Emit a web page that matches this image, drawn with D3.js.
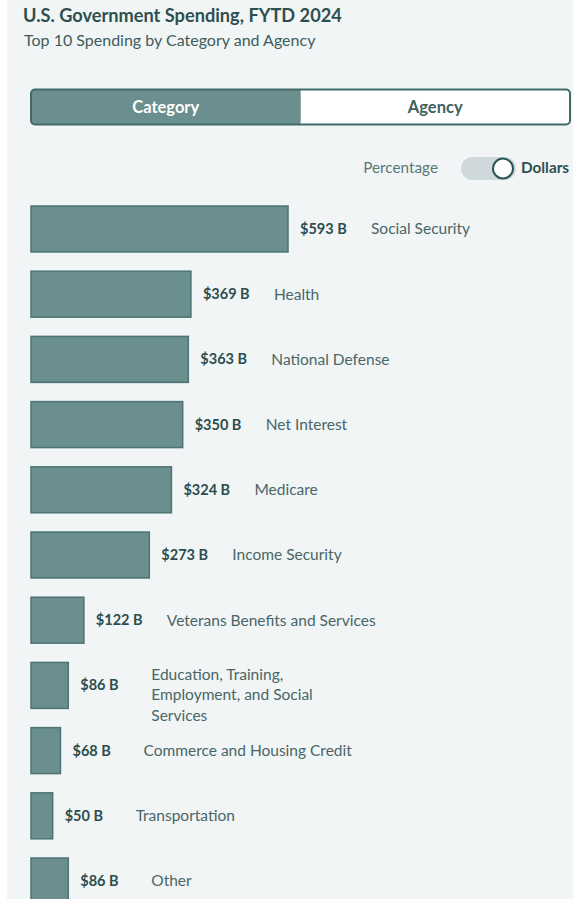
<!DOCTYPE html>
<html>
<head>
<meta charset="utf-8">
<script src="https://cdn.jsdelivr.net/npm/d3@7"></script>
<style>
  html, body { margin: 0; padding: 0; background: #ffffff; }
  svg { display: block; font-family: Lato, "Open Sans", sans-serif; }
</style>
</head>
<body>
<svg id="chart" width="573" height="899"></svg>
<script>
// Top 10 spending categories, fiscal year to date (billions of dollars)
const categories = [
  "Social Security",
  "Health",
  "National Defense",
  "Net Interest",
  "Medicare",
  "Income Security",
  "Veterans Benefits and Services",
  "Education, Training, Employment, and Social Services",
  "Commerce and Housing Credit",
  "Transportation",
  "Other"
];
const spending = [593, 369, 363, 350, 324, 273, 122, 86, 68, 50, 86];
const tabLabels = ["Category", "Agency"];
const unitLabels = ["Percentage", "Dollars"];

const rows = categories.map((name, i) => ({ name, value: spending[i] }));

const W = 573, H = 899;
const teal = "#6b8f8e", tealEdge = "#4c7473", ink = "#2c4d4d", soft = "#4a6666";

const svg = d3.select("#chart");

// panel background
svg.append("rect").attr("x", 7).attr("y", 0).attr("width", W - 7).attr("height", H).attr("fill", "#f1f5f6");

// heading
svg.append("text").attr("x", 23).attr("y", 22)
  .attr("font-size", 18.2).attr("font-weight", 700).attr("fill", "#2e4f4f")
  .text("U.S. Government Spending, FYTD 2024");
svg.append("text").attr("x", 24).attr("y", 46)
  .attr("font-size", 16).attr("fill", "#3f5c5c")
  .text("Top 10 Spending by Category and Agency");

// Category / Agency tab switch
const tabX = d3.scaleBand().domain(tabLabels).range([31, 570]);
const tabs = svg.append("g");
tabs.append("rect").attr("x", 31).attr("y", 89.5).attr("width", 539).attr("height", 35)
  .attr("rx", 4).attr("fill", "#ffffff");
tabs.append("rect").attr("x", tabX("Category")).attr("y", 89.5)
  .attr("width", tabX.bandwidth()).attr("height", 35).attr("rx", 4).attr("fill", teal);
tabs.append("rect").attr("x", tabX("Category") + tabX.bandwidth() - 6).attr("y", 89.5)
  .attr("width", 6).attr("height", 35).attr("fill", teal);
tabs.append("rect").attr("x", 31).attr("y", 89.5).attr("width", 539).attr("height", 35)
  .attr("rx", 4).attr("fill", "none").attr("stroke", "#3f6a69").attr("stroke-width", 2);
tabs.selectAll("text.tab").data(tabLabels).join("text")
  .attr("class", "tab")
  .attr("x", d => tabX(d) + tabX.bandwidth() / 2)
  .attr("y", 107).attr("dy", "0.35em").attr("text-anchor", "middle")
  .attr("font-size", 16.5).attr("font-weight", 700)
  .attr("fill", (d, i) => i === 0 ? "#ffffff" : "#3d6160")
  .text(d => d);

// Percentage / Dollars toggle
const tg = svg.append("g");
tg.append("text").attr("x", 438).attr("y", 168).attr("dy", "0.35em").attr("text-anchor", "end")
  .attr("font-size", 15.3).attr("fill", "#5b7777").text(unitLabels[0]);
tg.append("rect").attr("x", 461).attr("y", 157).attr("width", 55).attr("height", 23)
  .attr("rx", 11.5).attr("fill", "#cfd8da");
tg.append("circle").attr("cx", 503).attr("cy", 168.5).attr("r", 10)
  .attr("fill", "#ffffff").attr("stroke", "#2c5656").attr("stroke-width", 2);
tg.append("text").attr("x", 521).attr("y", 168).attr("dy", "0.35em")
  .attr("font-size", 15.3).attr("font-weight", 700).attr("fill", "#2f5050").text(unitLabels[1]);

// bars
const x = d3.scaleLinear().domain([0, d3.max(spending)]).range([0, 257]);
const y = d3.scaleBand().domain(categories).range([206, 904]).paddingInner(0.295).paddingOuter(0);
const x0 = 31;

const row = svg.append("g").selectAll("g").data(rows).join("g")
  .attr("transform", d => `translate(0,${y(d.name)})`);

row.append("rect")
  .attr("x", x0).attr("y", 0)
  .attr("width", d => x(d.value)).attr("height", y.bandwidth())
  .attr("fill", teal).attr("stroke", tealEdge).attr("stroke-width", 1.5);

const mid = y.bandwidth() / 2;

row.append("text")
  .attr("x", d => x0 + x(d.value) + 12).attr("y", mid).attr("dy", "0.35em")
  .attr("font-size", 14.5).attr("font-weight", 700).attr("fill", ink)
  .text(d => `$${d.value} B`);

// category names, wrapped when they run long
const maxLine = 213;
row.append("text")
  .attr("x", d => x0 + x(d.value) + 12 + 71)
  .attr("font-size", 15.5).attr("fill", soft)
  .each(function (d) {
    const t = d3.select(this);
    const words = d.name.split(" ");
    const lines = [];
    let cur = [];
    const probe = t.append("tspan");
    words.forEach(w => {
      const trial = cur.concat(w).join(" ");
      probe.text(trial);
      if (cur.length && probe.node().getComputedTextLength() > maxLine) {
        lines.push(cur.join(" "));
        cur = [w];
      } else {
        cur.push(w);
      }
    });
    lines.push(cur.join(" "));
    probe.remove();
    const lh = 20.5;
    const top = lines.length > 1 ? mid - 11 : mid;
    lines.forEach((ln, i) => {
      t.append("tspan").attr("x", t.attr("x"))
        .attr("y", top + i * lh).attr("dy", "0.35em")
        .text(ln);
    });
  });
</script>
</body>
</html>
